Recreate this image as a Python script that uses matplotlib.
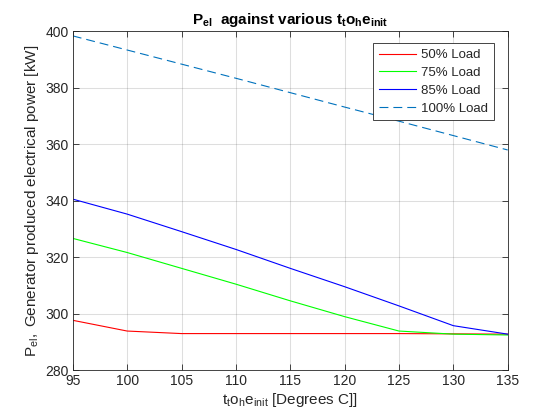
import matplotlib
matplotlib.use("Agg")
import matplotlib.pyplot as plt

x = [95, 100, 105, 110, 115, 120, 125, 130, 135]
load50 = [297.6, 293.8, 292.9, 292.9, 292.9, 292.9, 292.9, 292.8, 292.7]
load75 = [326.6, 321.6, 316.0, 310.4, 304.5, 298.9, 293.8, 292.7, 292.4]
load85 = [340.5, 335.2, 329.0, 322.7, 316.0, 309.5, 302.7, 295.7, 292.7]
load100 = [398.3, 393.3, 388.3, 383.3, 378.2, 373.1, 368.1, 363.0, 357.9]
labels = ["50% Load", "75% Load", "85% Load", "100% Load"]
xticks = [95, 100, 105, 110, 115, 120, 125, 130, 135]
yticks = [280, 300, 320, 340, 360, 380, 400]

plt.rcParams['font.family'] = ['Liberation Sans', 'DejaVu Sans']
plt.rcParams['mathtext.fontset'] = 'custom'
plt.rcParams['mathtext.rm'] = 'Liberation Sans'
plt.rcParams['mathtext.it'] = 'Liberation Sans'
plt.rcParams['mathtext.bf'] = 'Liberation Sans:bold'

axc = (0.15, 0.15, 0.15)
fig = plt.figure(figsize=(5.6, 4.2), dpi=100)
ax = fig.add_axes([0.13, 0.119, 0.7766, 0.807])

lw = 0.8
ax.plot(x, load50, color=(1, 0, 0), lw=lw, label=labels[0])
ax.plot(x, load75, color=(0, 1, 0), lw=lw, label=labels[1])
ax.plot(x, load85, color=(0, 0, 1), lw=lw, label=labels[2])
ax.plot(x, load100, color=(0, 0.447, 0.741), lw=lw, dashes=(8.0, 4.5), label=labels[3])

ax.set_xlim(95, 135)
ax.set_ylim(280, 400)
ax.set_xticks(xticks)
ax.set_yticks(yticks)
ax.grid(True, color=axc, alpha=0.15, lw=0.75)
ax.set_axisbelow(True)
ax.tick_params(direction='in', top=True, right=True, length=4, width=0.6,
               colors=axc, labelsize=10, labelcolor=axc, pad=3)
for s in ax.spines.values():
    s.set_color(axc)
    s.set_linewidth(0.6)

ax.set_title(r'$\mathbf{P_{el}\ \ against\ various\ t_to_he_{init}}$', fontsize=11, color='black', pad=5)
ax.set_xlabel(r'$\mathrm{t_to_he_{init}\ [Degrees\ C]]}$', fontsize=11, color=axc, labelpad=2)
ax.set_ylabel(r'$\mathrm{P_{el},\ Generator\ produced\ electrical\ power\ [kW]}$', fontsize=11, color=axc, labelpad=3)

leg = ax.legend(loc='upper right', bbox_to_anchor=(494/560, 1 - 43/420), bbox_transform=fig.transFigure,
                borderaxespad=0, fontsize=9.5, handlelength=2.8, labelspacing=0.42, fancybox=False,
                framealpha=1, edgecolor=axc, borderpad=0.45, handletextpad=0.4)
leg.get_frame().set_linewidth(0.6)
for t in leg.get_texts():
    t.set_color(axc)

fig.savefig("out.png", dpi=100)
